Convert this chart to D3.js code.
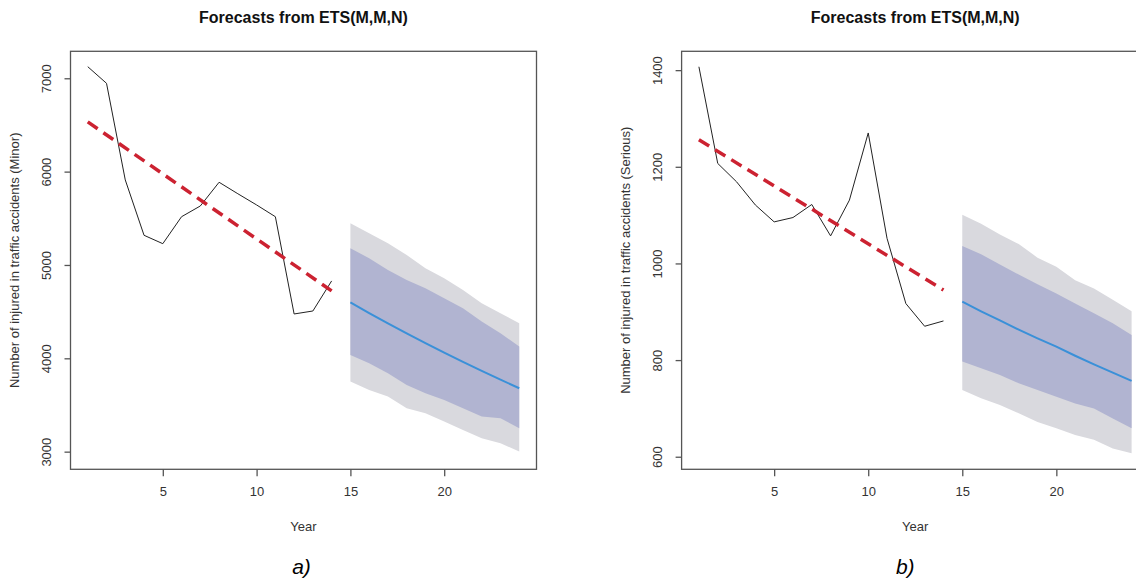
<!DOCTYPE html>
<html>
<head>
<meta charset="utf-8">
<script src="https://cdn.jsdelivr.net/npm/d3@7"></script>
<style>
  body { margin: 0; background: #fff; }
  text { font-family: "Liberation Sans", Arial, sans-serif; }
</style>
</head>
<body>
<div id="chart"></div>
<script>
// years
var obsYears = [1, 2, 3, 4, 5, 6, 7, 8, 9, 10, 11, 12, 13, 14];
var fcYears = [15, 16, 17, 18, 19, 20, 21, 22, 23, 24];
var trendYears = [1, 14];
var xTicks = [5, 10, 15, 20];

// a) minor injuries
var minorObs = [7124, 6946, 5911, 5318, 5228, 5517, 5632, 5886, 5763, 5643, 5517, 4475, 4507, 4829];
var minorTrend = [6533, 4722];
var minorMean = [4600, 4485, 4375, 4268, 4163, 4060, 3962, 3866, 3772, 3679];
var minorHi95 = [5447, 5340, 5232, 5107, 4965, 4857, 4732, 4590, 4483, 4375];
var minorHi80 = [5179, 5072, 4947, 4840, 4750, 4643, 4536, 4394, 4268, 4126];
var minorLo80 = [4036, 3947, 3840, 3715, 3626, 3554, 3465, 3376, 3358, 3251];
var minorLo95 = [3751, 3661, 3590, 3465, 3411, 3322, 3233, 3144, 3090, 3001];
var minorTicks = [3000, 4000, 5000, 6000, 7000];

// b) serious injuries
var seriousObs = [1407, 1207, 1169, 1121, 1086, 1095, 1122, 1057, 1131, 1270, 1052, 917, 870, 881];
var seriousTrend = [1256, 945];
var seriousMean = [921, 901, 882, 863, 845, 828, 809, 791, 774, 757];
var seriousHi95 = [1101, 1082, 1060, 1040, 1012, 993, 965, 948, 925, 901];
var seriousHi80 = [1036, 1019, 998, 977, 957, 938, 917, 897, 876, 852];
var seriousLo80 = [797, 783, 769, 752, 738, 724, 710, 700, 679, 659];
var seriousLo95 = [738, 721, 707, 690, 672, 659, 645, 635, 617, 607];
var seriousTicks = [600, 800, 1000, 1200, 1400];

var W = 1136, H = 583;
var plotTop = 51.3, plotBottom = 469.3;

var panels = [
  {left: 70.5, right: 536.5, ydom: [2811, 7289], ticks: minorTicks,
   obs: minorObs, trend: minorTrend, mean: minorMean,
   hi95: minorHi95, hi80: minorHi80, lo80: minorLo80, lo95: minorLo95,
   ylab: "Number of injured in traffic accidents (Minor)", tag: "a)", tagShift: -2},
  {left: 681.6, right: 1148.9, ydom: [574, 1439], ticks: seriousTicks,
   obs: seriousObs, trend: seriousTrend, mean: seriousMean,
   hi95: seriousHi95, hi80: seriousHi80, lo80: seriousLo80, lo95: seriousLo95,
   ylab: "Number of injured in traffic accidents (Serious)", tag: "b)", tagShift: -10}
];

var svg = d3.select("#chart").append("svg")
    .attr("width", W)
    .attr("height", H);

panels.forEach(function (p) {
    var x = d3.scaleLinear().domain([0.08, 24.92]).range([p.left, p.right]);
    var y = d3.scaleLinear().domain(p.ydom).range([plotBottom, plotTop]);
    var cx = (p.left + p.right) / 2;
    var g = svg.append("g");

    // prediction intervals
    var band = function (lo, hi) {
        return d3.area()
            .x(function (d, i) { return x(fcYears[i]); })
            .y0(function (d, i) { return y(lo[i]); })
            .y1(function (d, i) { return y(hi[i]); })(fcYears);
    };
    g.append("path").attr("d", band(p.lo95, p.hi95)).attr("fill", "#d9d9de");
    g.append("path").attr("d", band(p.lo80, p.hi80)).attr("fill", "#b1b4d1");

    var line = d3.line()
        .x(function (d) { return x(d[0]); })
        .y(function (d) { return y(d[1]); });

    // forecast mean
    g.append("path")
        .attr("d", line(fcYears.map(function (t, i) { return [t, p.mean[i]]; })))
        .attr("fill", "none")
        .attr("stroke", "#3a90d8")
        .attr("stroke-width", 2);

    // observed series
    g.append("path")
        .attr("d", line(obsYears.map(function (t, i) { return [t, p.obs[i]]; })))
        .attr("fill", "none")
        .attr("stroke", "#222")
        .attr("stroke-width", 1);

    // linear trend
    g.append("path")
        .attr("d", line(trendYears.map(function (t, i) { return [t, p.trend[i]]; })))
        .attr("fill", "none")
        .attr("stroke", "#cc2231")
        .attr("stroke-width", 3.5)
        .attr("stroke-dasharray", "12,7");

    // box
    g.append("rect")
        .attr("x", p.left).attr("y", plotTop)
        .attr("width", p.right - p.left).attr("height", plotBottom - plotTop)
        .attr("fill", "none")
        .attr("stroke", "#555")
        .attr("stroke-width", 1.3);

    // x axis
    var xa = g.append("g").attr("transform", "translate(0," + plotBottom + ")")
        .call(d3.axisBottom(x).tickValues(xTicks).tickSize(7).tickPadding(10));
    xa.select(".domain").remove();
    xa.selectAll("line").attr("stroke", "#555").attr("stroke-width", 1.3);
    xa.selectAll("text").attr("font-size", 13).attr("fill", "#333")
        .attr("font-family", "'Liberation Sans', Arial, sans-serif");

    // y axis
    var ya = g.append("g").attr("transform", "translate(" + p.left + ",0)")
        .call(d3.axisLeft(y).tickValues(p.ticks).tickSize(6).tickFormat(d3.format("d")));
    ya.select(".domain").remove();
    ya.selectAll("line").attr("stroke", "#555").attr("stroke-width", 1.3);
    ya.selectAll("text")
        .attr("font-size", 13).attr("fill", "#333")
        .attr("font-family", "'Liberation Sans', Arial, sans-serif")
        .attr("x", null).attr("dy", null)
        .attr("text-anchor", "middle")
        .attr("transform", "translate(-20,0) rotate(-90)");

    // labels
    g.append("text")
        .attr("x", cx).attr("y", 23)
        .attr("text-anchor", "middle")
        .attr("font-size", 16).attr("font-weight", "bold").attr("fill", "#111")
        .text("Forecasts from ETS(M,M,N)");

    g.append("text")
        .attr("x", cx).attr("y", 531)
        .attr("text-anchor", "middle")
        .attr("font-size", 13).attr("fill", "#333")
        .text("Year");

    g.append("text")
        .attr("transform", "translate(" + (p.left - 52) + "," + ((plotTop + plotBottom) / 2) + ") rotate(-90)")
        .attr("text-anchor", "middle")
        .attr("font-size", 13).attr("fill", "#333")
        .text(p.ylab);

    g.append("text")
        .attr("x", cx + p.tagShift).attr("y", 574)
        .attr("text-anchor", "middle")
        .attr("font-size", 21).attr("font-style", "italic")
        .attr("font-family", "'Liberation Serif', 'Times New Roman', serif")
        .attr("fill", "#000")
        .text(p.tag);
});
</script>
</body>
</html>
